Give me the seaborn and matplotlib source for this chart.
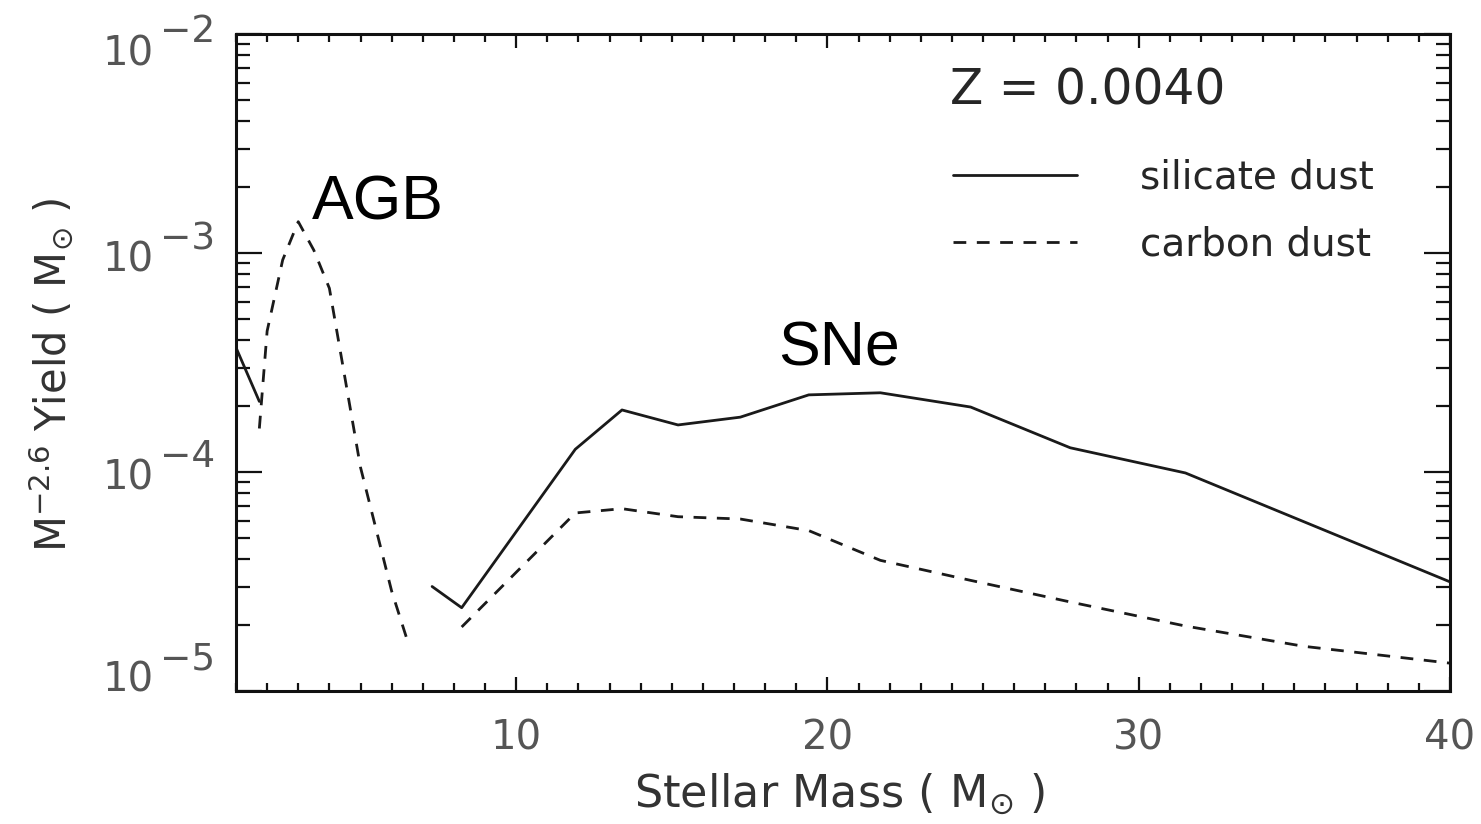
import matplotlib
matplotlib.use("Agg")
import matplotlib.pyplot as plt
from matplotlib.lines import Line2D
from matplotlib.ticker import MultipleLocator, LogLocator, NullFormatter, FixedLocator
import seaborn as sns
import pandas as pd

# Dust yields weighted by M^-2.6, metallicity Z = 0.0040
sil_agb_mass = [1.0, 1.75]
sil_agb_yield = [3.7e-4, 2.1e-4]
sil_sne_mass = [7.3, 8.25, 11.9, 13.4, 15.2, 17.2, 19.4, 21.7, 24.6, 27.8, 31.5, 40.0]
sil_sne_yield = [3.0e-5, 2.4e-5, 1.27e-4, 1.92e-4, 1.64e-4, 1.78e-4, 2.25e-4,
                 2.30e-4, 1.98e-4, 1.29e-4, 9.9e-5, 3.15e-5]

car_agb_mass = [1.75, 2.0, 2.5, 3.0, 3.5, 4.0, 5.0, 6.0, 6.5]
car_agb_yield = [1.58e-4, 4.4e-4, 9.3e-4, 1.39e-3, 1.03e-3, 6.9e-4, 1.05e-4, 2.86e-5, 1.71e-5]
car_sne_mass = [8.25, 11.9, 13.4, 15.2, 17.2, 19.4, 21.7, 24.6, 27.8, 31.5, 35.3, 40.0]
car_sne_yield = [1.96e-5, 6.5e-5, 6.8e-5, 6.25e-5, 6.1e-5, 5.4e-5, 3.95e-5,
                 3.2e-5, 2.55e-5, 1.98e-5, 1.6e-5, 1.34e-5]

dust_labels = ["silicate dust", "carbon dust"]
x_ticks = [10, 20, 30, 40]
y_decades = [-2, -3, -4, -5]
metallicity_text = "Z = 0.0040"

frames = []
for mass, yld, dust, branch in [
    (sil_agb_mass, sil_agb_yield, dust_labels[0], "sil_agb"),
    (sil_sne_mass, sil_sne_yield, dust_labels[0], "sil_sne"),
    (car_agb_mass, car_agb_yield, dust_labels[1], "car_agb"),
    (car_sne_mass, car_sne_yield, dust_labels[1], "car_sne"),
]:
    frames.append(pd.DataFrame({"mass": mass, "yield": yld, "dust": dust, "branch": branch}))
df = pd.concat(frames, ignore_index=True)

sns.set_style("ticks")
plt.rcParams["font.family"] = ["DejaVu Sans"]
plt.rcParams["mathtext.fontset"] = "dejavusans"

fig = plt.figure(figsize=(14.81, 8.24), dpi=100)
ax = fig.add_axes([236 / 1481, 1 - 691 / 824, 1214 / 1481, 657 / 824])

line_color = "#1a1a1a"
line_width = 2.0
dash_pattern = (4.6, 3.8)
dash_map = {dust_labels[0]: "", dust_labels[1]: dash_pattern}
ax.set_yscale("log")
sns.lineplot(data=df, x="mass", y="yield", style="dust", units="branch",
             estimator=None, dashes=dash_map, color=line_color, lw=line_width,
             legend=False, ax=ax, sort=False)

ax.set_xlim(1, 40)
ax.set_ylim(1e-5, 1e-2)

# axes frame and ticks in the old plotting style
for sp in ax.spines.values():
    sp.set_visible(True)
    sp.set_linewidth(2.2)
    sp.set_color("#111111")

ax.xaxis.set_major_locator(FixedLocator(x_ticks))
ax.xaxis.set_minor_locator(MultipleLocator(1))
ax.yaxis.set_major_locator(LogLocator(base=10, numticks=10))
ax.yaxis.set_minor_locator(LogLocator(base=10, subs=range(2, 10), numticks=10))
ax.yaxis.set_major_formatter(NullFormatter())
ax.yaxis.set_minor_formatter(NullFormatter())

tick_label_color = "#555555"
ax.tick_params(axis="both", which="both", direction="in", top=True, right=True,
               color="#111111", width=1.6)
ax.tick_params(axis="x", which="major", length=10, labelsize=29, pad=20,
               labelcolor=tick_label_color)
ax.tick_params(axis="x", which="minor", length=5.8)
ax.tick_params(axis="y", which="major", length=18.7)
ax.tick_params(axis="y", which="minor", length=10)

# decade labels written as 10 with a large exponent
base_drop = [31, 19, 18, 1]
for dec, drop in zip(y_decades, base_drop):
    ax.annotate("10", xy=(0, 10.0 ** dec), xycoords=("axes fraction", "data"),
                xytext=(-82, -drop), textcoords="offset pixels",
                ha="right", va="baseline", fontsize=29, color=tick_label_color)
    ax.annotate("\u2212" + str(-dec), xy=(0, 10.0 ** dec), xycoords=("axes fraction", "data"),
                xytext=(-76, -drop + 23), textcoords="offset pixels",
                ha="left", va="baseline", fontsize=27, color=tick_label_color)

ax.set_xlabel("Stellar Mass ( M$_{\\odot}$ )", fontsize=32, color="#333333")
ax.set_ylabel("M$^{-2.6}$ Yield ( M$_{\\odot}$ )", fontsize=30, color="#333333")
ax.xaxis.set_label_coords(0.497, -0.122)
ax.yaxis.set_label_coords(-0.133, 0.482)

# branch annotations
ax.text(0.0626, 0.717, "AGB", transform=ax.transAxes, fontsize=45,
        family="Liberation Sans", color="black", ha="left", va="baseline")
ax.text(0.4465, 0.496, "SNe", transform=ax.transAxes, fontsize=45,
        family="Liberation Sans", color="black", ha="left", va="baseline")

# metallicity and legend
ax.text(0.588, 0.892, metallicity_text, transform=ax.transAxes, fontsize=35,
        color="#262626", ha="left", va="baseline")
handles = [Line2D([], [], color=line_color, lw=line_width, linestyle="-"),
           Line2D([], [], color=line_color, lw=line_width, dashes=dash_pattern)]
ax.legend(handles, dust_labels, loc="upper left", bbox_to_anchor=(0.5906, 0.81),
          frameon=False, fontsize=28, handlelength=3.2, handletextpad=1.6,
          labelspacing=0.73, borderpad=0, borderaxespad=0, labelcolor="#262626")

fig.savefig("out.png", dpi=100)
